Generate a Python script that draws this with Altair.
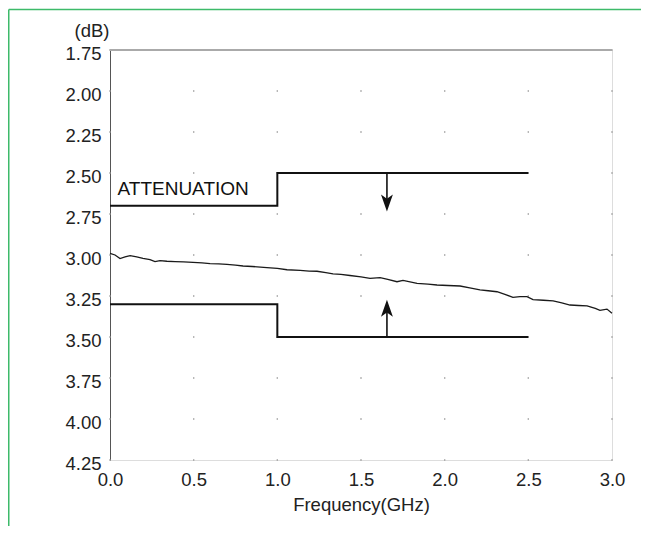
import altair as alt
import pandas as pd

# measured attenuation curve (GHz, dB)
freq = [0.000, 0.030, 0.060, 0.090, 0.120, 0.160, 0.197, 0.239, 0.269, 0.299, 0.340, 0.389,
        0.440, 0.496, 0.550, 0.598, 0.650, 0.699, 0.750, 0.795, 0.850, 0.938, 1.000, 1.058,
        1.136, 1.190, 1.237, 1.290, 1.333, 1.380, 1.434, 1.500, 1.554, 1.614, 1.660, 1.715,
        1.751, 1.835, 1.900, 1.954, 2.020, 2.092, 2.150, 2.211, 2.260, 2.313, 2.360, 2.408,
        2.450, 2.492, 2.528, 2.590, 2.648, 2.700, 2.749, 2.800, 2.851, 2.900, 2.928, 2.970, 3.000]
atten = [2.990, 3.000, 3.022, 3.012, 3.004, 3.012, 3.020, 3.028, 3.040, 3.034, 3.038, 3.040,
         3.042, 3.045, 3.048, 3.052, 3.054, 3.057, 3.062, 3.067, 3.070, 3.077, 3.082, 3.090,
         3.094, 3.098, 3.099, 3.108, 3.115, 3.118, 3.125, 3.134, 3.142, 3.138, 3.148, 3.163,
         3.155, 3.173, 3.178, 3.183, 3.186, 3.189, 3.200, 3.213, 3.218, 3.224, 3.240, 3.258,
         3.254, 3.254, 3.272, 3.276, 3.280, 3.292, 3.305, 3.308, 3.310, 3.326, 3.338, 3.330, 3.355]

# specification limits
upper_f = [0.0, 1.0, 2.5]
upper_v = [2.70, 2.50, 2.50]
lower_f = [0.0, 1.0, 2.5]
lower_v = [3.30, 3.50, 3.50]

# arrows
arrow_f = [1.655]
arrow_down_base = [2.50]
arrow_down_head = [2.683]
arrow_up_base = [3.50]
arrow_up_head = [3.325]

label_text = ["ATTENUATION"]
label_f = [0.045]
label_v = [2.595]

x_ticks = [0.0, 0.5, 1.0, 1.5, 2.0, 2.5, 3.0]
y_ticks = [1.75, 2.00, 2.25, 2.50, 2.75, 3.00, 3.25, 3.50, 3.75, 4.00, 4.25]

FONT = "Liberation Sans"
INK = "#111111"
GREEN = "#3dba6a"
FS = 18.5

xs = alt.Scale(domain=[0, 3], nice=False, zero=False)
ys = alt.Scale(domain=[1.75, 4.25], nice=False, zero=False, reverse=True)

grid_df = pd.DataFrame([(a, b) for a in x_ticks for b in y_ticks], columns=["f", "v"])
curve_df = pd.DataFrame({"f": freq, "v": atten})
upper_df = pd.DataFrame({"f": upper_f, "v": upper_v})
lower_df = pd.DataFrame({"f": lower_f, "v": lower_v})
down_df = pd.DataFrame({"f": arrow_f, "b": arrow_down_base, "h": arrow_down_head})
up_df = pd.DataFrame({"f": arrow_f, "b": arrow_up_base, "h": arrow_up_head})
label_df = pd.DataFrame({"f": label_f, "v": label_v, "t": label_text})

dots = alt.Chart(grid_df).mark_square(size=2, color="#9a9a9a", opacity=1).encode(
    x=alt.X("f:Q", scale=xs, axis=alt.Axis(
        values=x_ticks, format=".1f", ticks=False, grid=False, domain=False,
        labelFlush=False, labelOverlap=False,
        labelFontSize=FS, labelPadding=10, labelColor="#222", labelFont=FONT,
        title="Frequency(GHz)", titleFontSize=FS, titleFontWeight="normal",
        titleColor="#222", titleFont=FONT, titlePadding=7)),
    y=alt.Y("v:Q", scale=ys, axis=alt.Axis(
        values=y_ticks, format=".2f", ticks=False, grid=False,
        labelFlush=False, labelOverlap=False, labelOffset=3,
        domainColor="#555", domainWidth=1, labelFontSize=FS, labelPadding=9,
        labelColor="#222", labelFont=FONT, labelBaseline="middle",
        title="(dB)", titleAngle=0, titleAlign="right", titleBaseline="middle",
        titleX=-1, titleY=-20, titleFontSize=FS, titleFontWeight="normal",
        titleColor="#222", titleFont=FONT)),
)

top_line = alt.Chart(pd.DataFrame({"f": [x_ticks[0]], "f2": [x_ticks[-1]], "v": [y_ticks[0]]})).mark_rule(
    color="#aaaaaa", strokeWidth=2).encode(
    x=alt.X("f:Q", scale=xs), x2="f2:Q", y=alt.Y("v:Q", scale=ys))

curve = alt.Chart(curve_df).mark_line(color="#1a1a1a", strokeWidth=1.3).encode(
    x=alt.X("f:Q", scale=xs), y=alt.Y("v:Q", scale=ys), order="f:Q")

upper = alt.Chart(upper_df).mark_line(color=INK, strokeWidth=2, interpolate="step-after").encode(
    x=alt.X("f:Q", scale=xs), y=alt.Y("v:Q", scale=ys), order="f:Q")
lower = alt.Chart(lower_df).mark_line(color=INK, strokeWidth=2, interpolate="step-after").encode(
    x=alt.X("f:Q", scale=xs), y=alt.Y("v:Q", scale=ys), order="f:Q")

down_shaft = alt.Chart(down_df).mark_rule(color=INK, strokeWidth=1.6).encode(
    x=alt.X("f:Q", scale=xs), y=alt.Y("b:Q", scale=ys), y2="h:Q")
up_shaft = alt.Chart(up_df).mark_rule(color=INK, strokeWidth=1.6).encode(
    x=alt.X("f:Q", scale=xs), y=alt.Y("b:Q", scale=ys), y2="h:Q")

down_head = alt.Chart(down_df).mark_point(
    shape="M0,1L-0.7,-1L0,-0.5L0.7,-1Z", filled=True, size=289, color=INK, opacity=1).encode(
    x=alt.X("f:Q", scale=xs), y=alt.Y("h:Q", scale=ys))
up_head = alt.Chart(up_df).mark_point(
    shape="M0,-1L-0.7,1L0,0.5L0.7,1Z", filled=True, size=289, color=INK, opacity=1).encode(
    x=alt.X("f:Q", scale=xs), y=alt.Y("h:Q", scale=ys))

label = alt.Chart(label_df).mark_text(
    align="left", baseline="middle", fontSize=19, font=FONT, color=INK).encode(
    x=alt.X("f:Q", scale=xs), y=alt.Y("v:Q", scale=ys), text="t:N")

one = pd.DataFrame({"a": [0]})
frame_left = alt.Chart(one).mark_rule(color=GREEN, strokeWidth=1.5).encode(
    x=alt.value(-101.25), y=alt.value(-40.5), y2=alt.value(476))
frame_top = alt.Chart(one).mark_rule(color=GREEN, strokeWidth=1.5).encode(
    x=alt.value(-101.25), x2=alt.value(531), y=alt.value(-40.5))

chart = alt.layer(
    frame_left, frame_top, dots, top_line, curve, upper, lower,
    down_shaft, up_shaft, down_head, up_head, label
).properties(
    width=502, height=410,
    autosize=alt.AutoSizeParams(type="none"),
    padding={"left": 102, "top": 42, "right": 29, "bottom": 66},
).configure_view(stroke=None).configure(font=FONT)

chart.save("out.html", embed_options={"renderer": "svg", "actions": False})
